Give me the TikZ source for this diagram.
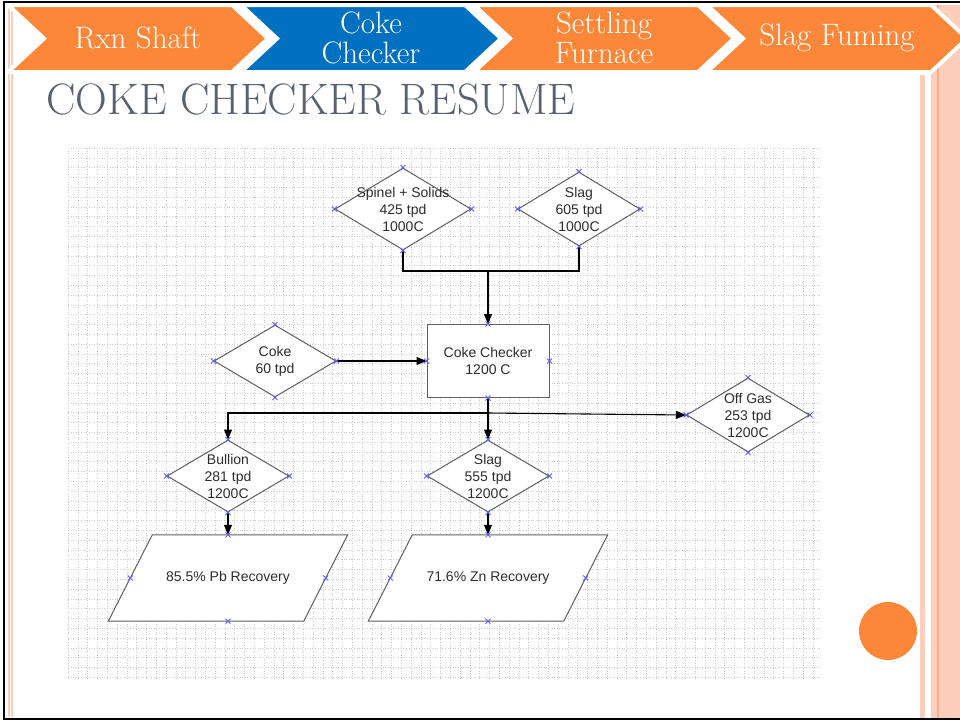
\documentclass[tikz,border=0pt]{standalone}
\usepackage{fontspec}
\usepackage{color}
\usetikzlibrary{shapes.geometric,arrows.meta}
\newfontfamily\chartfont{Liberation Sans}
\definecolor{headorange}{RGB}{253,135,57}
\definecolor{headblue}{RGB}{0,112,192}
\definecolor{titlegray}{RGB}{89,97,112}
\definecolor{stripepink}{RGB}{253,206,188}
\definecolor{stripedark}{RGB}{250,172,142}
\definecolor{pinblue}{RGB}{95,95,255}
\definecolor{shapegray}{RGB}{95,95,95}
\definecolor{textgray}{RGB}{45,45,45}
\definecolor{gridgray}{RGB}{205,205,205}

\tikzset{
  chevron/.style={fill=#1, draw=white, line width=4pt, line join=miter},
  headtext/.style={text=white, align=center, font=\fontsize{31}{30}\selectfont},
  stream/.style={diamond, draw=shapegray, line width=1pt, fill=white, inner sep=0pt,
    minimum width=122, minimum height=72},
  unit/.style={rectangle, draw=shapegray, line width=1pt, fill=white, inner sep=0pt,
    minimum width=122, minimum height=73},
  result/.style={rectangle, inner sep=0pt, minimum width=195, minimum height=86},
  slanted/.style={draw=shapegray, line width=1pt, fill=white},
  chart/.style={font=\chartfont\fontsize{14}{17}\selectfont, text=textgray, align=center},
  flow/.style={draw=black, line width=1.1pt, -{Triangle[length=10pt,width=8pt]}},
  link/.style={draw=black, line width=1.1pt},
  pin/.style={draw=pinblue, line width=0.8pt}
}

\begin{document}
\begin{tikzpicture}[x=1pt,y=-1pt]
\useasboundingbox (0,0) rectangle (960,721);

% side stripes
\fill[stripepink] (931,5) rectangle (960,719);
\fill[stripepink] (920,75) rectangle (925,719);
\draw[stripedark, line width=2pt] (938,5) -- (938,719);
\draw[stripepink, line width=1.5pt] (9,5) -- (9,717);
\draw[stripepink, line width=1.5pt] (12,5) -- (12,717);

% header
\foreach \x/\c in {8/headorange, 241/headblue, 474/headorange, 707/headorange}
  \draw[chevron=\c] (\x,5) -- ++(224,0) -- ++(36,33.5) -- ++(-36,33.5) -- ++(-224,0) -- ++(36,-33.5) -- cycle;
\node[headtext] (rxn) at (138,38) {Rxn Shaft};
\node[headtext] (chk) at (371,38) {Coke\\Checker};
\node[headtext] (settle) at (604,38) {Settling\\Furnace};
\node[headtext] (fume) at (837,38) {Slag Fuming};

\node[anchor=west, text=titlegray, font=\fontsize{44}{44}\selectfont] (title) at (43,99) {COKE CHECKER RESUME};

% drawing grid
\foreach \x in {68,77.8,...,820}
  \draw[gridgray, dotted, line width=0.6pt] (\x,148) -- (\x,681);
\foreach \y in {148,157.8,...,681}
  \draw[gridgray, dotted, line width=0.6pt] (68,\y) -- (820,\y);

% flowsheet
\node[stream, minimum width=136, minimum height=82,
  label={[chart]center:Spinel + Solids\\425 tpd\\1000C}] (spinel) at (403,209) {};
\node[stream, minimum width=122, minimum height=74,
  label={[chart]center:Slag\\605 tpd\\1000C}] (slagin) at (579,209) {};
\node[unit, chart] (cc) at (488,361) {Coke Checker\\1200 C};
\node[stream, label={[chart]center:Coke\\60 tpd}] (coke) at (275,361) {};
\node[stream, minimum width=123, minimum height=74,
  label={[chart]center:Off Gas\\253 tpd\\1200C}] (offgas) at (748,415) {};
\node[stream, label={[chart]center:Bullion\\281 tpd\\1200C}] (bullion) at (228,476) {};
\node[stream, label={[chart]center:Slag\\555 tpd\\1200C}] (slagout) at (488,476) {};
\node[result] (pb) at (228,578) {};
\node[result] (zn) at (488,578) {};
\foreach \n in {pb,zn}
  \draw[slanted] ([xshift=22]\n.north west) -- ([xshift=22]\n.north east)
    -- ([xshift=-22]\n.south east) -- ([xshift=-22]\n.south west) -- cycle;
\node[chart] (pbtext) at (pb) {85.5\% Pb Recovery};
\node[chart] (zntext) at (zn) {71.6\% Zn Recovery};

\coordinate (join) at (488,271);
\coordinate (split) at (488,413);

\draw[link] (spinel.south) |- (join);
\draw[link] (slagin.south) |- (join);
\draw[flow] (join) -- (cc.north);
\draw[flow] (coke.east) -- (cc.west);
\draw[flow] (cc.south) -- (slagout.north);
\draw[flow] (split) -| (bullion.north);
\draw[flow] (split) -- (offgas.west);
\draw[flow] (bullion.south) -- (pb.north);
\draw[flow] (slagout.south) -- (zn.north);

% connection points
\foreach \n in {spinel,slagin,cc,coke,offgas,bullion,slagout,pb,zn}
  \foreach \a in {north,south,east,west}
    \draw[pin] (\n.\a) +(-2.5,-2.5) -- +(2.5,2.5) +(-2.5,2.5) -- +(2.5,-2.5);

\fill[headorange] (888,631) circle (29);

% slide frame
\draw[black, line width=2.5pt] (962,2) -- (4,2) -- (4,719) -- (962,719);
\end{tikzpicture}
\end{document}
